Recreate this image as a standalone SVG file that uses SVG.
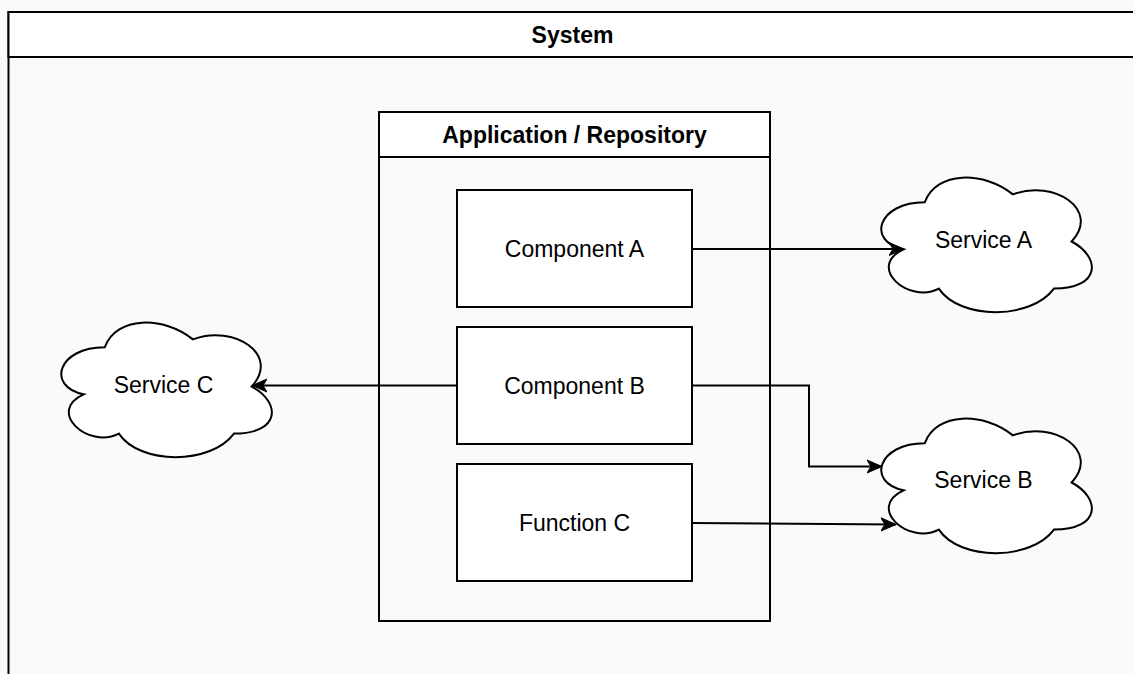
<svg xmlns="http://www.w3.org/2000/svg" width="1133" height="674" viewBox="0 0 1133 674">
  <style>
    .frame { fill: none; stroke: #000; stroke-width: 2; }
    .hdr { fill: #ffffff; stroke: #000; stroke-width: 2; }
    .box { fill: #ffffff; stroke: #000; stroke-width: 2; }
    .cloud { fill: #ffffff; stroke: #000; stroke-width: 2; }
    .edge { fill: none; stroke: #000; stroke-width: 2; }
    .lbl { font-family: "Liberation Sans", Arial, Helvetica, sans-serif; font-size: 23px; fill: #000; text-anchor: middle; }
    .title { font-weight: bold; }
  </style>
  <defs>
    <path id="cloudShape" d="M58.75,39.25 C11.75,39.25 0,78.5 37.6,86.35 C0,103.62 42.3,141.3 72.85,125.6 C94,157 164.5,157 188,125.6 C235,125.6 235,94.2 205.63,78.5 C235,47.1 188,15.7 146.88,31.4 C117.5,7.85 70.5,7.85 58.75,39.25 Z"/>
    <marker id="arrow" markerUnits="userSpaceOnUse" markerWidth="20" markerHeight="20" refX="15" refY="7" orient="auto" viewBox="0 0 20 14">
      <path d="M15,7 L0,0.5 L4,7 L0,13.5 Z" fill="#000" stroke="#000" stroke-width="1"/>
    </marker>
  </defs>

  <rect x="0" y="0" width="1133" height="674" fill="#fafafa"/>

  <g id="system">
    <rect class="frame" x="8.5" y="12" width="1130" height="700"/>
    <rect class="hdr" x="8.5" y="12" width="1130" height="45"/>
    <text class="lbl title" x="572.5" y="43">System</text>
  </g>

  <g id="application">
    <rect class="frame" x="379" y="112" width="391" height="509"/>
    <rect class="hdr" x="379" y="112" width="391" height="45"/>
    <text class="lbl title" x="574.5" y="143">Application / Repository</text>
  </g>

  <g id="componentA">
    <rect class="box" x="457" y="190" width="235" height="117"/>
    <text class="lbl" x="574.5" y="256.5">Component A</text>
  </g>

  <g id="componentB">
    <rect class="box" x="457" y="327" width="235" height="117"/>
    <text class="lbl" x="574.5" y="393.5">Component B</text>
  </g>

  <g id="functionC">
    <rect class="box" x="457" y="464" width="235" height="117"/>
    <text class="lbl" x="574.5" y="530.5">Function C</text>
  </g>

  <g id="serviceA">
    <use href="#cloudShape" class="cloud" transform="translate(866,163)"/>
    <text class="lbl" x="983.5" y="248">Service A</text>
  </g>

  <g id="serviceB">
    <use href="#cloudShape" class="cloud" transform="translate(866,404)"/>
    <text class="lbl" x="983.5" y="488">Service B</text>
  </g>

  <g id="serviceC">
    <use href="#cloudShape" class="cloud" transform="translate(46,308)"/>
    <text class="lbl" x="163.5" y="393">Service C</text>
  </g>

  <g id="connectors">
    <path class="edge" d="M692,249 L904,249" marker-end="url(#arrow)"/>
    <path class="edge" d="M457,385.5 L252,385.5" marker-end="url(#arrow)"/>
    <path class="edge" d="M692,385.5 L809,385.5 L809,466.5 L882,466.5" marker-end="url(#arrow)"/>
    <path class="edge" d="M692,523 L896,524.5" marker-end="url(#arrow)"/>
  </g>
</svg>
